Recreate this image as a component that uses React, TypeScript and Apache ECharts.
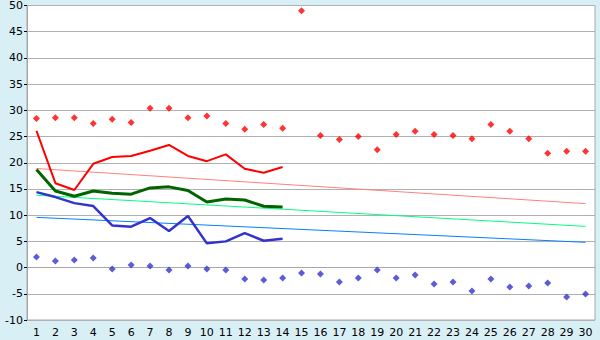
import React, { useEffect, useRef } from "react";
import * as echarts from "echarts";

const categories = Array.from({ length: 30 }, (_, i) => String(i + 1));

const redPoints = [28.45, 28.6, 28.6, 27.5, 28.3, 27.7, 30.4, 30.4, 28.6, 28.9, 27.5, 26.4, 27.3, 26.6, 49.0, 25.2, 24.45, 25.0, 22.5, 25.4, 26.0, 25.4, 25.2, 24.6, 27.3, 26.0, 24.6, 21.8, 22.2, 22.2];
const bluePoints = [2.0, 1.25, 1.44, 1.82, -0.28, 0.48, 0.29, -0.47, 0.29, -0.28, -0.47, -2.18, -2.37, -1.99, -1.04, -1.23, -2.76, -2.0, -0.47, -2.0, -1.42, -3.14, -2.76, -4.47, -2.18, -3.71, -3.52, -2.95, -5.61, -5.04];
const redLine = [26.1, 16.1, 14.8, 19.8, 21.1, 21.3, 22.3, 23.4, 21.3, 20.3, 21.6, 18.85, 18.1, 19.2];
const greenLine = [18.7, 14.6, 13.6, 14.6, 14.2, 14.0, 15.2, 15.4, 14.7, 12.5, 13.1, 12.9, 11.7, 11.55];
const blueLine = [14.4, 13.45, 12.3, 11.73, 8.05, 7.8, 9.45, 6.97, 9.83, 4.62, 5.0, 6.59, 5.12, 5.5];
const redTrend = [18.9, 12.2];
const greenTrend = [13.8, 7.86];
const blueTrend = [9.58, 4.82];

const yMin = -10;
const yMax = 50;
const yStep = 5;

const trend = (ends: number[]) => [
  [0, ends[0]],
  [categories.length - 1, ends[1]],
];

export default function App() {
  const ref = useRef<HTMLDivElement>(null);
  useEffect(() => {
    if (!ref.current) return;
    const chart = echarts.init(ref.current, undefined, { renderer: "svg" });
    const font = "DejaVu Sans";
    chart.setOption({
      animation: false,
      backgroundColor: "#d9eff6",
      textStyle: { fontFamily: font },
      grid: {
        left: 27,
        right: 5,
        top: 5,
        bottom: 20,
        show: true,
        backgroundColor: "#ffffff",
        borderColor: "#a8a8a8",
        borderWidth: 1,
      },
      xAxis: {
        type: "category",
        data: categories,
        boundaryGap: true,
        axisLine: { lineStyle: { color: "#a8a8a8" } },
        axisTick: { alignWithLabel: true, length: 5, lineStyle: { color: "#000000" } },
        axisLabel: { color: "#000000", fontSize: 11, fontFamily: font, margin: 7, interval: 0 },
        splitLine: { show: false },
      },
      yAxis: {
        type: "value",
        min: yMin,
        max: yMax,
        interval: yStep,
        axisLine: { show: true, lineStyle: { color: "#a8a8a8" } },
        axisTick: { show: true, length: 3, lineStyle: { color: "#000000" } },
        axisLabel: { color: "#000000", fontSize: 11, fontFamily: font, margin: 4 },
        splitLine: { lineStyle: { color: "#b0b0b0", width: 1 } },
      },
      series: [
        { type: "line", data: trend(redTrend), symbol: "none", lineStyle: { color: "#ff8080", width: 1 }, z: 2 },
        { type: "line", data: trend(greenTrend), symbol: "none", lineStyle: { color: "#00ff80", width: 1 }, z: 2 },
        { type: "line", data: trend(blueTrend), symbol: "none", lineStyle: { color: "#0080ff", width: 1 }, z: 2 },
        { type: "line", data: redLine, symbol: "none", lineStyle: { color: "#ff0000", width: 2 }, z: 3 },
        { type: "line", data: greenLine, symbol: "none", lineStyle: { color: "#006400", width: 3 }, z: 3 },
        { type: "line", data: blueLine, symbol: "none", lineStyle: { color: "#3333cc", width: 2.5 }, z: 3 },
        { type: "scatter", data: redPoints, symbol: "diamond", symbolSize: 7, itemStyle: { color: "#ff0000" }, z: 4 },
        { type: "scatter", data: bluePoints, symbol: "diamond", symbolSize: 7, itemStyle: { color: "#3333cc" }, z: 4 },
      ],
    });
    return () => chart.dispose();
  }, []);
  return <div ref={ref} style={{ position: "fixed", left: 0, top: 0, width: 600, height: 340 }} />;
}
